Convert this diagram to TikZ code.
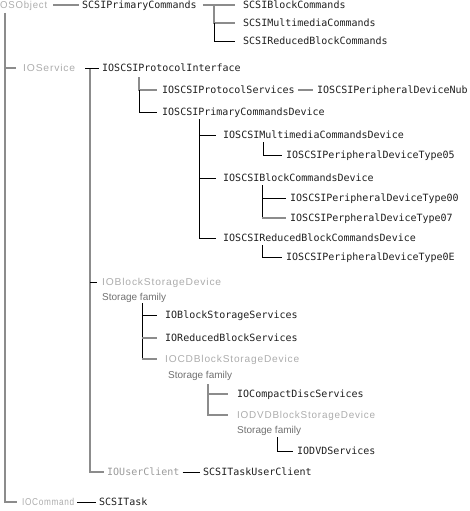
\documentclass[tikz,border=0pt]{standalone}
\usepackage{fontspec}
\setmonofont{DejaVu Sans Mono}
\newfontfamily\lightsans[LetterSpace=8]{Liberation Sans}
\newfontfamily\plainsans{Liberation Sans}
\definecolor{linegray}{HTML}{8C8C8C}
\definecolor{ghostgray}{HTML}{ACACAC}
\definecolor{famgray}{HTML}{707070}
\definecolor{clsgray}{HTML}{9A9A9A}
\newcommand\gw[2]{\resizebox{#1pt}{\height}{#2}}
\tikzset{
  base/.style={anchor=west, inner sep=0pt, text height=7.3pt, text depth=0pt},
  cls/.style={base, text=black!88, font=\ttfamily\fontsize{10}{12}\selectfont},
  ghost/.style={base, text=ghostgray, font=\lightsans\fontsize{10}{12}\selectfont},
  fam/.style={base, text=famgray, font=\plainsans\fontsize{10}{12}\selectfont},
  gl/.style={draw=linegray, line width=1.8pt},
  bl/.style={draw=black, line width=0.8pt},
}
\begin{document}
\begin{tikzpicture}[x=1pt, y=-1pt]
\useasboundingbox (0,0) rectangle (469,511);
% nodes
\node[ghost] (osobj) at (0,5) {\gw{47}{OSObject}};
\node[cls] (spc) at (82,5) {SCSIPrimaryCommands};
\node[cls] (sbc) at (243,5) {SCSIBlockCommands};
\node[cls] (smc) at (243,23) {SCSIMultimediaCommands};
\node[cls] (srbc) at (243,41) {SCSIReducedBlockCommands};
\node[ghost] (iosvc) at (23,68) {\gw{52}{IOService}};
\node[cls] (pi) at (102,68) {IOSCSIProtocolInterface};
\node[cls] (ps) at (162,90) {IOSCSIProtocolServices};
\node[cls] (nub) at (317,90) {IOSCSIPeripheralDeviceNub};
\node[cls] (pcd) at (162,112) {IOSCSIPrimaryCommandsDevice};
\node[cls] (mcd) at (223,135) {IOSCSIMultimediaCommandsDevice};
\node[cls] (t05) at (286,155) {IOSCSIPeripheralDeviceType05};
\node[cls] (bcd) at (223,178) {IOSCSIBlockCommandsDevice};
\node[cls] (t00) at (290,198) {IOSCSIPeripheralDeviceType00};
\node[cls] (t07) at (290,218) {IOSCSIPerpheralDeviceType07};
\node[cls] (rbcd) at (223,238) {IOSCSIReducedBlockCommandsDevice};
\node[cls] (t0e) at (286,257) {IOSCSIPeripheralDeviceType0E};
\node[ghost] (bsd) at (102,282) {\gw{119}{IOBlockStorageDevice}};
\node[fam] (f1) at (102,297) {Storage family};
\node[cls] (bss) at (165,315) {IOBlockStorageServices};
\node[cls] (rbs) at (165,338) {IOReducedBlockServices};
\node[ghost] (cdbsd) at (165,359) {\gw{134}{IOCDBlockStorageDevice}};
\node[fam] (f2) at (168,375) {Storage family};
\node[cls] (cds) at (237,394) {IOCompactDiscServices};
\node[ghost] (dvd) at (237,415) {\gw{138}{IODVDBlockStorageDevice}};
\node[fam] (f3) at (237,430) {Storage family};
\node[cls] (dvds) at (297,451) {IODVDServices};
\node[cls, text=clsgray] (uc) at (107,472) {IOUserClient};
\node[cls] (stuc) at (203,472) {SCSITaskUserClient};
\node[ghost] (iocmd) at (22,502) {\gw{52}{IOCommand}};
\node[cls] (st) at (99,502) {SCSITask};
% junction coordinates
\coordinate (r0) at (5,13);
\coordinate (j1) at (214,5);
\coordinate (r1) at (90,68);
\coordinate (r2) at (139,77);
\coordinate (r3) at (199,119);
\coordinate (r4) at (263,142);
\coordinate (r5) at (262,185);
\coordinate (r6) at (262,245);
\coordinate (r7) at (142,303);
\coordinate (r8) at (208,384);
\coordinate (r9) at (277,437);
% connectors
\draw[gl] (r0) |- ([xshift=-5pt]iocmd.west);
\draw[gl] (r0 |- iosvc.west) -- ([xshift=-7pt]iosvc.west);
\draw[gl] ([xshift=6pt]osobj.east) -- ([xshift=-3pt]spc.west);
\draw[gl] ([xshift=6pt]spc.east) -- ([xshift=-8pt]sbc.west);
\draw[gl] (j1) |- ([xshift=-8pt]smc.west);
\draw[bl] (j1 |- smc.west) |- ([xshift=-8pt]srbc.west);
\draw[gl] (r1) |- ([xshift=-3pt]uc.west);
\draw[bl] ([xshift=-5pt]r1) -- ([xshift=-3pt]pi.west);
\draw[bl] (r1 |- bsd.west) -- ([xshift=-5pt]bsd.west);
\draw[gl] (r2) |- ([xshift=-5pt]ps.west);
\draw[bl] (r2 |- ps.west) |- ([xshift=-5pt]pcd.west);
\draw[gl] ([xshift=3pt]ps.east) -- ([xshift=-4pt]nub.west);
\draw[bl] (r3) |- ([xshift=-7pt]rbcd.west);
\draw[bl] (r3 |- mcd.west) -- ([xshift=-7pt]mcd.west);
\draw[bl] (r3 |- bcd.west) -- ([xshift=-7pt]bcd.west);
\draw[bl] (r4) |- ([xshift=-4pt]t05.west);
\draw[bl] (r5) |- ([xshift=-4pt]t00.west);
\draw[bl] (r5 |- t00.west) -- (r5 |- t07.west);
\draw[gl] (r5 |- t07.west) -- ([xshift=-4pt]t07.west);
\draw[bl] (r6) |- ([xshift=-4pt]t0e.west);
\draw[bl] (r7) |- ([xshift=-8pt]bss.west);
\draw[bl] (r7 |- bss.west) -- (r7 |- cdbsd.west);
\draw[gl] (r7 |- rbs.west) -- ([xshift=-8pt]rbs.west);
\draw[gl] (r7 |- cdbsd.west) -- ([xshift=-8pt]cdbsd.west);
\draw[gl] (r8) |- ([xshift=-9pt]dvd.west);
\draw[gl] (r8 |- cds.west) -- ([xshift=-9pt]cds.west);
\draw[bl] (r9) |- ([xshift=-4pt]dvds.west);
\draw[bl] ([xshift=3pt]uc.east) -- ([xshift=-3pt]stuc.west);
\draw[bl] ([xshift=3pt]iocmd.east) -- ([xshift=-3pt]st.west);
\end{tikzpicture}
\end{document}
